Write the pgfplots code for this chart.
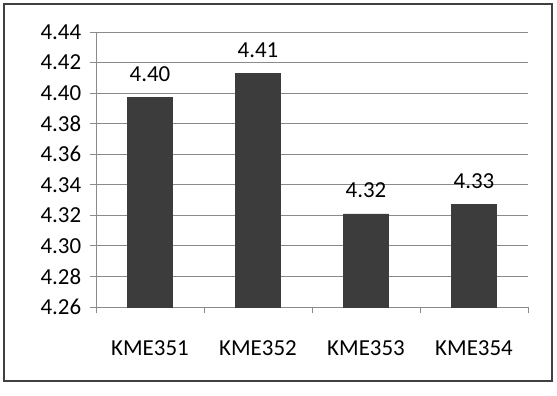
\documentclass[border=0pt]{standalone}
\usepackage{pgfplots}
\pgfplotsset{compat=1.18}
\usepackage{fontspec}
\setmainfont{Carlito}
\definecolor{barc}{HTML}{3C3C3C}
\definecolor{gridc}{HTML}{8A8A8A}
\begin{document}
\begin{tikzpicture}[x=1bp,y=1bp]
\fontsize{23}{27}\selectfont
\path[use as bounding box] (-96,-88) rectangle (461,307);
\draw[line width=1.6bp, black!75] (-92,-74) rectangle (456,303);
\begin{axis}[
  at={(0,0)}, anchor=south west,
  scale only axis, width=432bp, height=275bp,
  xmin=-0.5, xmax=3.5, ymin=4.26, ymax=4.44,
  ytick={4.26,4.28,...,4.44},
  yticklabel style={/pgf/number format/fixed,/pgf/number format/fixed zerofill,/pgf/number format/precision=2},
  /pgf/number format/assume math mode=true,
  xtick={0,1,2,3},
  xticklabels={KME351,KME352,KME353,KME354},
  minor xtick={-0.5,0.5,1.5,2.5,3.5},
  major x tick style={draw=none},
  minor x tick style={gridc, line width=0.8bp},
  minor tick length=6bp,
  major tick length=6bp,
  tick align=outside,
  ymajorgrids, grid style={gridc, line width=0.9bp},
  axis x line*=bottom, axis y line*=left,
  axis line style={gridc, line width=0.9bp},
  y tick style={gridc, line width=0.9bp},
  ytick pos=left,
  tick label style={font=\fontsize{23}{27}\selectfont},
  yticklabel style={xshift=-1bp},
  xticklabel style={yshift=-20bp},
  ybar, bar width=45bp,
  nodes near coords,
  nodes near coords style={/pgf/number format/fixed,/pgf/number format/fixed zerofill,/pgf/number format/precision=2, font=\fontsize{23}{27}\selectfont, yshift=8bp},
  clip=false,
]
\addplot[fill=barc, draw=barc] coordinates {(0,4.397) (1,4.413) (2,4.321) (3,4.327)};
\end{axis}
\end{tikzpicture}
\end{document}
